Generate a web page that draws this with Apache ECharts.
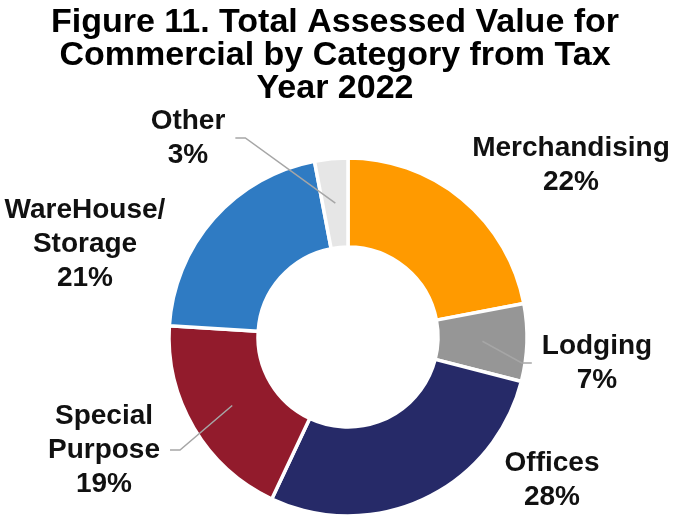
<!DOCTYPE html>
<html>
<head>
<meta charset="utf-8">
<title>Total Assessed Value for Commercial by Category</title>
<script src="https://cdn.jsdelivr.net/npm/echarts@6/dist/echarts.min.js"></script>
<style>
  html, body { margin: 0; padding: 0; background: #ffffff; }
  #chart { width: 676px; height: 516px; }
</style>
</head>
<body>
<div id="chart"></div>
<script>
// Commercial assessed value shares by category, tax year 2022 (percent)
const categories = ['Merchandising', 'Lodging', 'Offices', 'Special\nPurpose', 'WareHouse/\nStorage', 'Other'];
const shares = [22, 7, 28, 19, 21, 3];
const sliceColors = ['#FF9A00', '#969696', '#262A68', '#921B2C', '#2F7BC3', '#E6E6E6'];

const titleText = 'Figure 11. Total Assessed Value for\nCommercial by Category from Tax\nYear 2022';

// Ring geometry and label placement
const CX = 348, CY = 337, R_IN = 90, R_OUT = 179;
const labelAnchors = [[571, 165], [597, 363], [552, 480], [104, 450], [85, 244], [188, 138]];
const hasLeader = [false, true, false, true, false, true];

const FONT = '"Liberation Sans", Arial, Helvetica, sans-serif';
const total = shares.reduce((a, b) => a + b, 0);

// Mid-ring point of a slice (clockwise from 12 o'clock)
function sliceMidPoint(i) {
  let before = 0;
  for (let k = 0; k < i; k++) before += shares[k];
  const frac = (before + shares[i] / 2) / total;
  const ang = frac * 2 * Math.PI;
  const r = (R_IN + R_OUT) / 2;
  return [CX + r * Math.sin(ang), CY - r * Math.cos(ang)];
}

const sliceData = categories.map((name, i) => ({
  name: name,
  value: shares[i],
  itemStyle: { color: sliceColors[i] }
}));

const chart = echarts.init(document.getElementById('chart'), null, { renderer: 'canvas' });

chart.setOption({
  backgroundColor: '#ffffff',
  animation: false,
  title: {
    text: titleText,
    left: 335,
    top: 6,
    padding: 0,
    textAlign: 'center',
    textStyle: {
      fontFamily: FONT,
      fontSize: 34,
      lineHeight: 33,
      fontWeight: 'bold',
      color: '#000000'
    }
  },
  series: [
    // Coloured ring
    {
      type: 'pie',
      z: 2,
      center: [CX, CY],
      radius: [R_IN, R_OUT],
      startAngle: 90,
      clockwise: true,
      silent: true,
      label: { show: false },
      labelLine: { show: false },
      itemStyle: { borderColor: '#ffffff', borderWidth: 3.5 },
      data: sliceData
    },
    // Transparent overlay carrying the category labels and leader lines
    {
      type: 'pie',
      z: 3,
      center: [CX, CY],
      radius: [R_IN, R_OUT],
      startAngle: 90,
      clockwise: true,
      silent: true,
      avoidLabelOverlap: false,
      minShowLabelAngle: 0,
      itemStyle: { color: 'rgba(0,0,0,0)', borderWidth: 0 },
      label: {
        show: true,
        position: 'outside',
        fontFamily: FONT,
        fontSize: 28,
        lineHeight: 34,
        fontWeight: 'bold',
        color: '#111111',
        align: 'center',
        formatter: p => p.name + '\n' + p.value + '%'
      },
      labelLine: {
        show: true,
        lineStyle: { color: '#A6A6A6', width: 1.5 }
      },
      labelLayout: function (params) {
        const i = params.dataIndex;
        const [x, y] = labelAnchors[i];
        const res = { x: x, y: y, align: 'center', verticalAlign: 'middle' };
        if (hasLeader[i]) {
          const side = x < CX ? 1 : -1;
          const edge = x + side * params.labelRect.width / 2;
          res.labelLinePoints = [sliceMidPoint(i), [edge + side * 20, y], [edge + side * 10, y]];
        }
        return res;
      },
      data: categories.map((name, i) => ({
        name: name,
        value: shares[i],
        labelLine: { show: hasLeader[i] }
      }))
    }
  ]
});
</script>
</body>
</html>
